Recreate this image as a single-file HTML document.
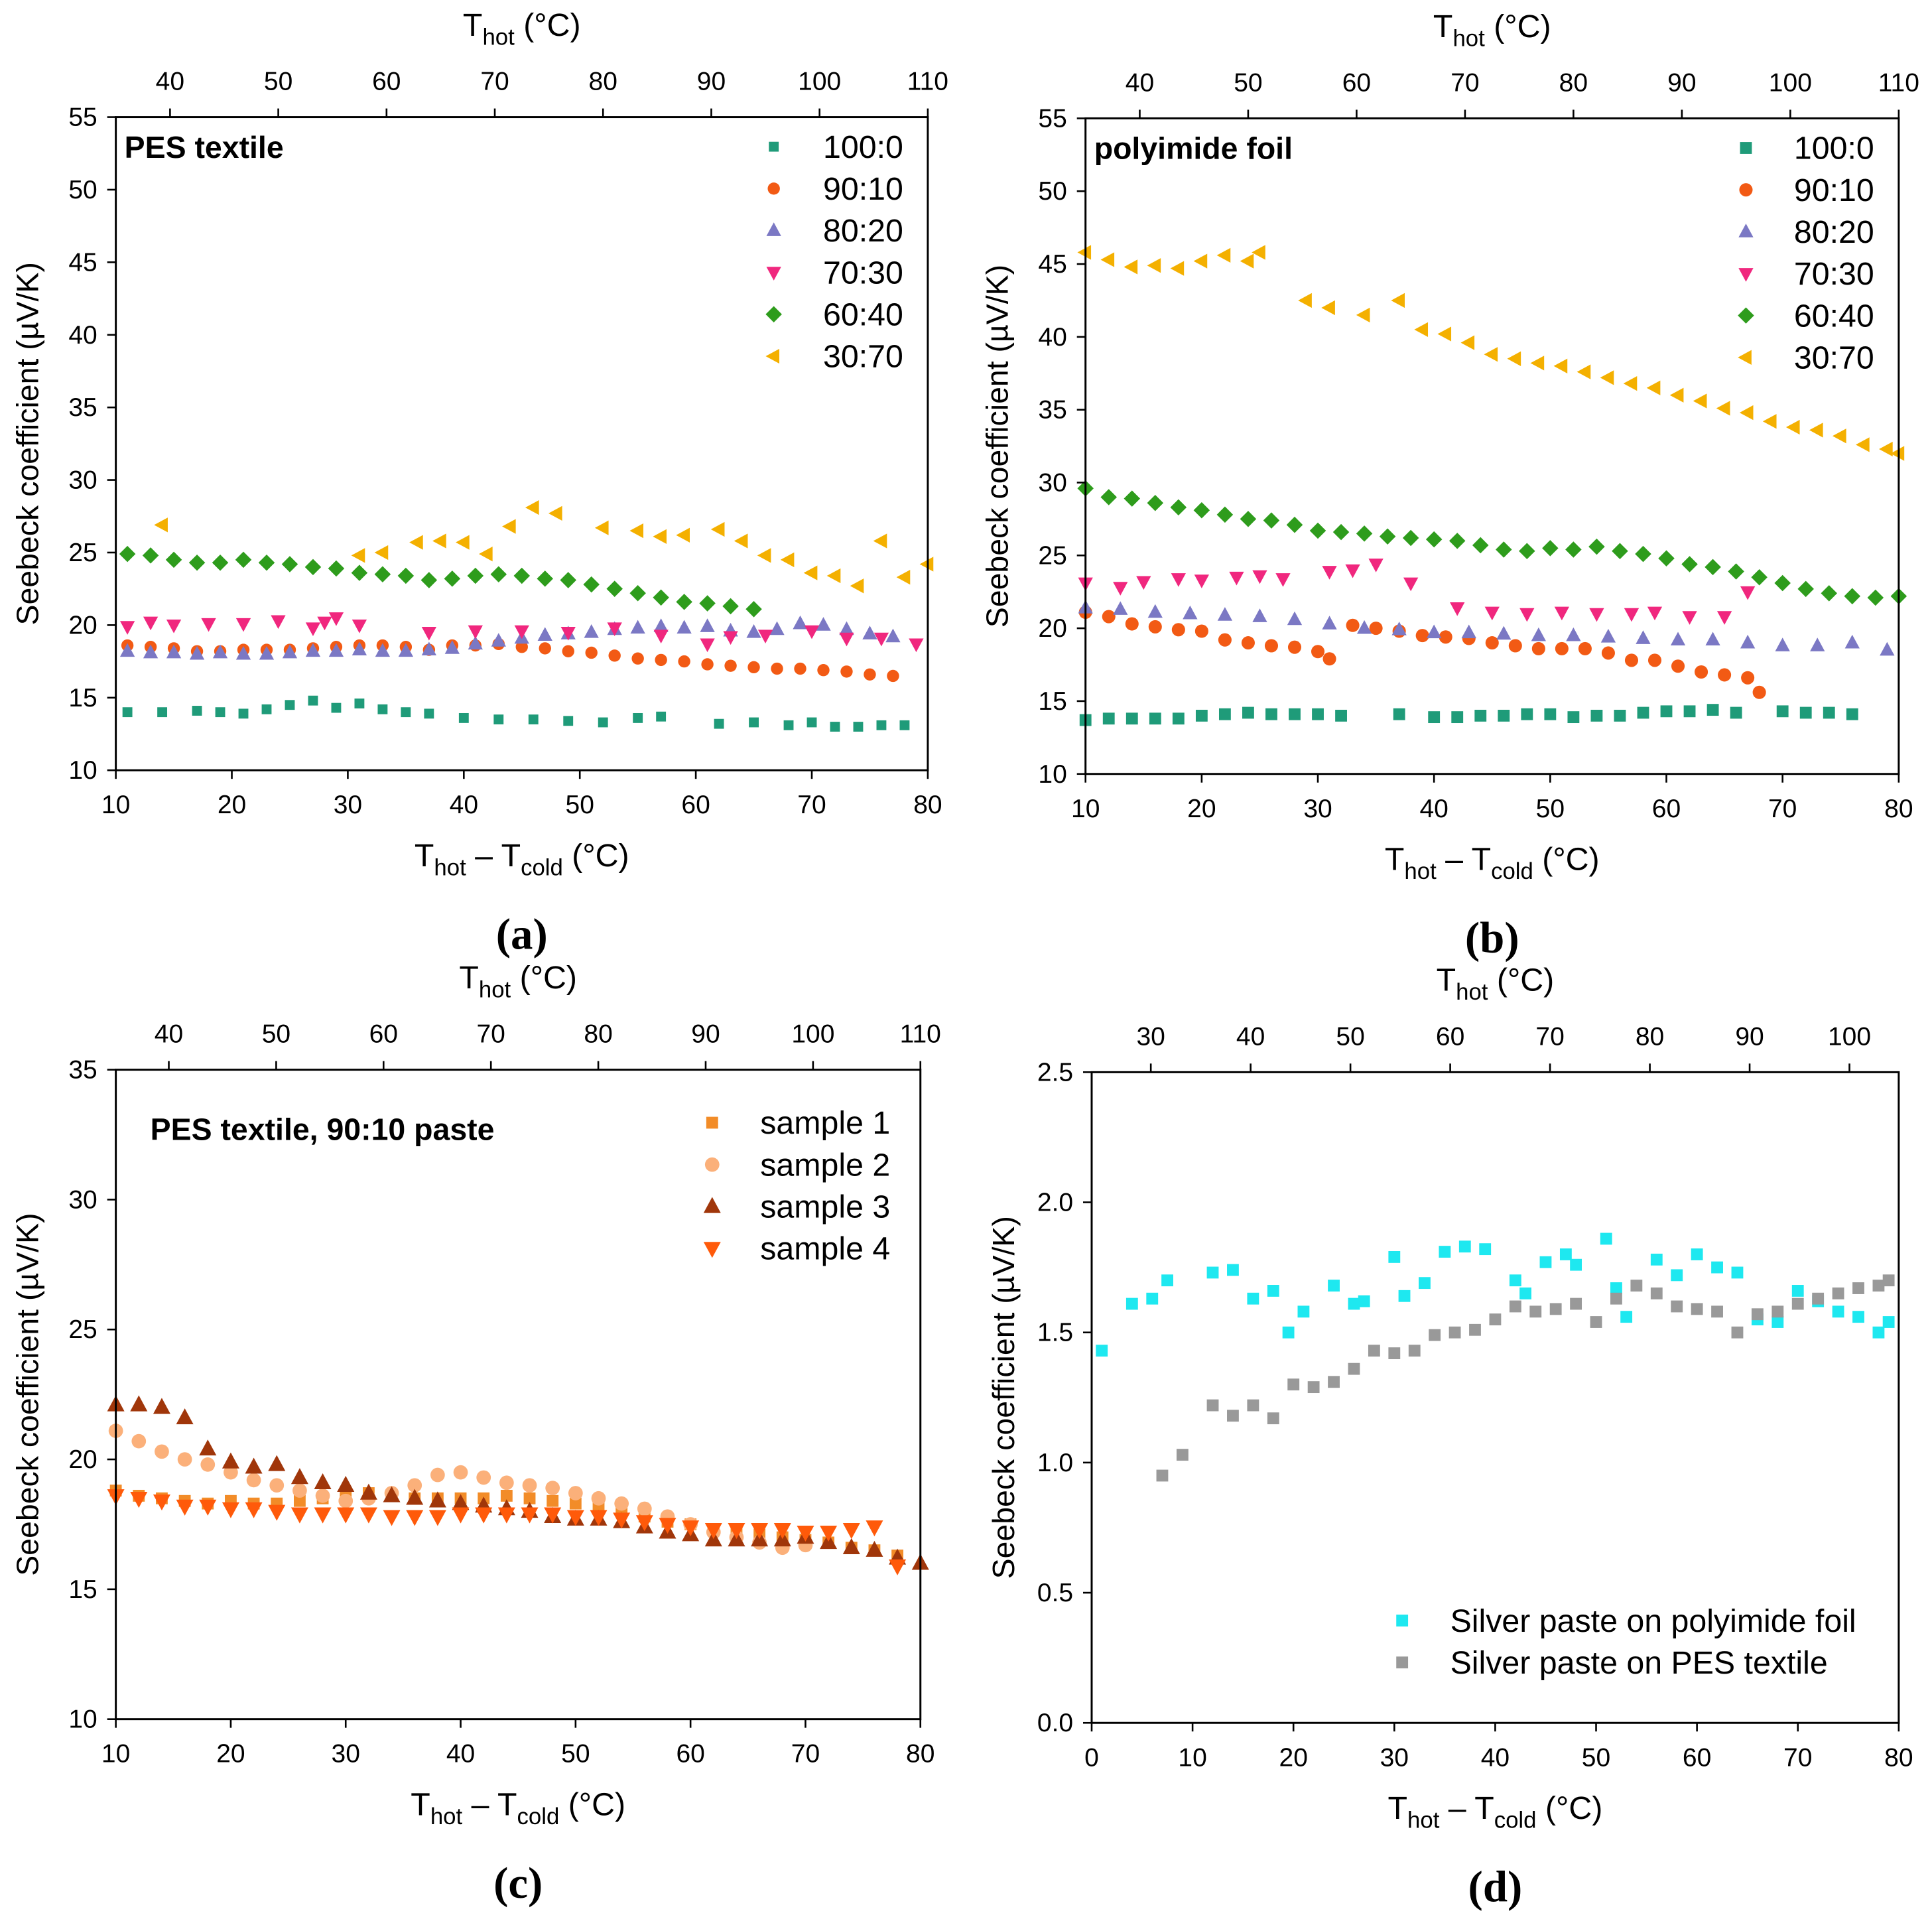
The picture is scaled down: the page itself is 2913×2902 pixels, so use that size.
<!DOCTYPE html>
<html><head><meta charset="utf-8"><style>
html,body{margin:0;padding:0;background:#fff;}
svg{display:block;font-family:"Liberation Sans",sans-serif;}
</style></head><body>
<svg id="c" width="2913" height="2902" viewBox="0 0 1568 1562" xmlns="http://www.w3.org/2000/svg"></svg>
<script>
// ---- Panel (a) data: PES textile ----
const aX100=[11,14,17,19,21,23,25,27,29,31,33,35,37,40,43,46,49,52,55,57,62,65,68,70,72,74,76,78];
const aY100=[14,14,14.1,14,13.9,14.2,14.5,14.8,14.3,14.6,14.2,14,13.9,13.6,13.5,13.5,13.4,13.3,13.6,13.7,13.2,13.3,13.1,13.3,13,13,13.1,13.1];
const aX90=[11,13,15,17,19,21,23,25,27,29,31,33,35,37,39,41,43,45,47,49,51,53,55,57,59,61,63,65,67,69,71,73,75,77];
const aY90=[18.6,18.5,18.4,18.2,18.2,18.3,18.3,18.3,18.4,18.5,18.6,18.6,18.5,18.3,18.6,18.6,18.7,18.5,18.4,18.2,18.1,17.9,17.7,17.6,17.5,17.3,17.2,17.1,17,17,16.9,16.8,16.6,16.5];
const aX80=aX90;
const aY80=[18.2,18.1,18.1,18,18.1,18,18,18.1,18.2,18.2,18.3,18.2,18.2,18.3,18.4,18.7,18.9,19.1,19.3,19.4,19.5,19.7,19.8,19.9,19.8,19.9,19.6,19.5,19.7,20.1,20,19.7,19.4,19.2];
const aX70=[11,13,15,18,21,24,27,28,29,31,37,41,45,49,53,57,61,63,66,70,73,76,79];
const aY70=[19.9,20.2,20,20.1,20.1,20.3,19.8,20.2,20.5,20,19.5,19.6,19.6,19.5,19.8,19.3,18.7,19.2,19.3,19.6,19.1,19.1,18.7];
const aX60=[11,13,15,17,19,21,23,25,27,29,31,33,35,37,39,41,43,45,47,49,51,53,55,57,59,61,63,65];
const aY60=[24.9,24.8,24.5,24.3,24.3,24.5,24.3,24.2,24,23.9,23.6,23.5,23.4,23.1,23.2,23.4,23.5,23.4,23.2,23.1,22.8,22.5,22.2,21.9,21.6,21.5,21.3,21.1];
const aX30=[14,31,33,36,38,40,42,44,46,48,52,55,57,59,62,64,66,68,70,72,74,76,78,80];
const aY30=[26.9,24.8,25,25.7,25.8,25.7,24.9,26.8,28.1,27.7,26.7,26.5,26.1,26.2,26.6,25.8,24.8,24.5,23.6,23.4,22.7,25.8,23.3,24.2];
// ---- Panel (b) data: polyimide foil ----
const bX100=[10,12,14,16,18,20,22,24,26,28,30,32,37,40,42,44,46,48,50,52,54,56,58,60,62,64,66,70,72,74,76];
const bY100=[13.7,13.8,13.8,13.8,13.8,14,14.1,14.2,14.1,14.1,14.1,14,14.1,13.9,13.9,14,14,14.1,14.1,13.9,14,14,14.2,14.3,14.3,14.4,14.2,14.3,14.2,14.2,14.1];
const bX90=[10,12,14,16,18,20,22,24,26,28,30,31,33,35,37,39,41,43,45,47,49,51,53,55,57,59,61,63,65,67,68];
const bY90=[21.1,20.8,20.3,20.1,19.9,19.8,19.2,19,18.8,18.7,18.4,17.9,20.2,20,19.8,19.5,19.4,19.3,19,18.8,18.6,18.6,18.6,18.3,17.8,17.8,17.4,17,16.8,16.6,15.6];
const bX80=[10,13,16,19,22,25,28,31,34,37,40,43,46,49,52,55,58,61,64,67,70,73,76,79];
const bY80=[21.4,21.3,21.1,21,20.9,20.8,20.6,20.3,20,19.9,19.7,19.7,19.6,19.5,19.5,19.4,19.3,19.2,19.2,19,18.8,18.8,19,18.5];
const bX70=[10,13,15,18,20,23,25,27,31,33,35,38,42,45,48,51,54,57,59,62,65,67];
const bY70=[23.1,22.8,23.2,23.4,23.3,23.5,23.6,23.4,23.9,24,24.4,23.1,21.4,21.1,21,21.1,21,21,21.1,20.8,20.8,22.5];
const bX60=[10,12,14,16,18,20,22,24,26,28,30,32,34,36,38,40,42,44,46,48,50,52,54,56,58,60,62,64,66,68,70,72,74,76,78,80];
const bY60=[29.6,29,28.9,28.6,28.3,28.1,27.8,27.5,27.4,27.1,26.7,26.6,26.5,26.3,26.2,26.1,26,25.7,25.4,25.3,25.5,25.4,25.6,25.3,25.1,24.8,24.4,24.2,23.9,23.5,23.1,22.7,22.4,22.2,22.1,22.2];
const bX30=[10,12,14,16,18,20,22,24,25,29,31,34,37,39,41,43,45,47,49,51,53,55,57,59,61,63,65,67,69,71,73,75,77,79,80];
const bY30=[45.8,45.3,44.8,44.9,44.7,45.2,45.6,45.2,45.8,42.5,42,41.5,42.5,40.5,40.2,39.6,38.8,38.5,38.2,38,37.6,37.2,36.8,36.5,36,35.6,35.1,34.8,34.2,33.8,33.6,33.2,32.6,32.3,32];
// ---- Panel (c) data: PES textile 90:10 samples ----
const cX1=[10,12,14,16,18,20,22,24,26,28,30,32,34,36,38,40,42,44,46,48,50,52,54,56,58,60,62,64,66,68,70,72,74,76,78];
const cY1=[18.8,18.6,18.5,18.4,18.3,18.4,18.3,18.3,18.4,18.5,18.6,18.7,18.6,18.5,18.5,18.5,18.5,18.6,18.5,18.4,18.3,18.2,18,17.8,17.6,17.5,17.3,17.2,17.1,17,16.9,16.8,16.6,16.5,16.3];
const cX2=[10,12,14,16,18,20,22,24,26,28,30,32,34,36,38,40,42,44,46,48,50,52,54,56,58,60,62,64,66,68,70];
const cY2=[21.1,20.7,20.3,20,19.8,19.5,19.2,19,18.8,18.6,18.4,18.5,18.7,19,19.4,19.5,19.3,19.1,19,18.9,18.7,18.5,18.3,18.1,17.8,17.5,17.2,17,16.8,16.6,16.7];
const cX3=[10,12,14,16,18,20,22,24,26,28,30,32,34,36,38,40,42,44,46,48,50,52,54,56,58,60,62,64,66,68,70,72,74,76,78,80];
const cY3=[22.1,22.1,22,21.6,20.4,19.9,19.7,19.8,19.3,19.1,19,18.7,18.6,18.5,18.4,18.3,18.2,18.1,18,17.8,17.7,17.7,17.6,17.4,17.2,17.1,16.9,16.9,16.9,16.9,17,16.8,16.6,16.5,16.2,16];
const cX4=[10,12,14,16,18,20,22,24,26,28,30,32,34,36,38,40,42,44,46,48,50,52,54,56,58,60,62,64,66,68,70,72,74,76,78];
const cY4=[18.6,18.5,18.4,18.2,18.2,18.1,18.1,18,17.9,17.9,17.9,17.9,17.8,17.8,17.8,17.9,17.9,17.9,17.9,17.9,17.8,17.8,17.7,17.6,17.5,17.4,17.3,17.3,17.3,17.3,17.2,17.2,17.3,17.4,15.9];
// ---- Panel (d) data: silver paste ----
const dXpi=[1,4,6,7.5,12,14,16,18,19.5,21,24,26,27,30,31,33,35,37,39,42,43,45,47,48,51,52,53,56,58,60,62,64,66,68,70,72,74,76,78,79];
const dYpi=[1.43,1.61,1.63,1.7,1.73,1.74,1.63,1.66,1.5,1.58,1.68,1.61,1.62,1.79,1.64,1.69,1.81,1.83,1.82,1.7,1.65,1.77,1.8,1.76,1.86,1.67,1.56,1.78,1.72,1.8,1.75,1.73,1.55,1.54,1.66,1.62,1.58,1.56,1.5,1.54];
const dXpes=[7,9,12,14,16,18,20,22,24,26,28,30,32,34,36,38,40,42,44,46,48,50,52,54,56,58,60,62,64,66,68,70,72,74,76,78,79];
const dYpes=[0.95,1.03,1.22,1.18,1.22,1.17,1.3,1.29,1.31,1.36,1.43,1.42,1.43,1.49,1.5,1.51,1.55,1.6,1.58,1.59,1.61,1.54,1.63,1.68,1.65,1.6,1.59,1.58,1.5,1.57,1.58,1.61,1.63,1.65,1.67,1.68,1.7];

const NS="http://www.w3.org/2000/svg";
const svg=document.getElementById('c');
function el(tag,attrs,parent,text){const e=document.createElementNS(NS,tag);for(const k in attrs)e.setAttribute(k,attrs[k]);if(text!==undefined)e.textContent=text;(parent||svg).appendChild(e);return e;}
function marker(g,shape,cx,cy,col,s){
  let e;
  if(shape==='sq'){e=el('rect',{x:cx-s*0.8,y:cy-s*0.8,width:s*1.6,height:s*1.6,fill:col},g);}
  else if(shape==='ci'){e=el('circle',{cx:cx,cy:cy,r:s*0.9,fill:col},g);}
  else{let p;
    if(shape==='up')p=[[0,-1.1],[1,0.75],[-1,0.75]];
    else if(shape==='dn')p=[[0,1.1],[1,-0.75],[-1,-0.75]];
    else if(shape==='lt')p=[[-1.1,0],[0.75,-1],[0.75,1]];
    else p=[[0,-1.1],[1.1,0],[0,1.1],[-1.1,0]];
    e=el('polygon',{points:p.map(q=>(cx+q[0]*s)+','+(cy+q[1]*s)).join(' '),fill:col},g);}
  return e;
}
function sub(parent,x,y,parts,size,anchor){
  const t=el('text',{x:x,y:y,'font-size':size,'text-anchor':anchor||'middle',fill:'#000'},parent);
  parts.forEach(p=>{el('tspan',p[1]?{'font-size':size*0.72,dy:size*0.28}:{'font-size':size,dy:p[2]?-size*0.28:0},t,p[0]);});
  return t;
}
function panel(P){
  const g=el('g',{});
  
  
  const X=v=>P.x0+(v-P.xmin)/(P.xmax-P.xmin)*(P.x1-P.x0);
  const Y=v=>P.y1-(v-P.ymin)/(P.ymax-P.ymin)*(P.y1-P.y0);
  const T=v=>P.tx0+(v-P.tv0)/(P.tv1-P.tv0)*(P.tx1-P.tx0);
  P.series.forEach(s=>{
    const sg=el('g',{},g);
    
    
    s.xs.forEach((xv,i)=>{const m=marker(sg,s.shape,X(xv),Y(s.ys[i]),s.col,s.sz||6);
      
      });
  });
  const fr=el('rect',{x:P.x0,y:P.y0,width:P.x1-P.x0,height:P.y1-P.y0,fill:'none',stroke:'#000','stroke-width':1.6},g);
  
  
  const xa=el('g',{},g);
  for(let v=P.xmin;v<=P.xmax+1e-9;v+=P.xstep){
    el('line',{x1:X(v),x2:X(v),y1:P.y1,y2:P.y1+7,stroke:'#000','stroke-width':1.4},xa);
    el('text',{x:X(v),y:P.y1+35,'font-size':21,'text-anchor':'middle'},xa,String(v));
  }
  const ya=el('g',{},g);
  for(let v=P.ymin;v<=P.ymax+1e-9;v+=P.ystep){
    el('line',{x1:P.x0-7,x2:P.x0,y1:Y(v),y2:Y(v),stroke:'#000','stroke-width':1.4},ya);
    el('text',{x:P.x0-15,y:Y(v)+7,'font-size':21,'text-anchor':'end'},ya,P.yfmt?v.toFixed(1):String(Math.round(v)));
  }
  const ta=el('g',{},g);
  P.tticks.forEach(v=>{
    el('line',{x1:T(v),x2:T(v),y1:P.y0-7,y2:P.y0,stroke:'#000','stroke-width':1.4},ta);
    el('text',{x:T(v),y:P.y0-22,'font-size':21,'text-anchor':'middle'},ta,String(v));
  });
  const cx=(P.x0+P.x1)/2, cy=(P.y0+P.y1)/2;
  const xt=sub(g,cx,P.y1+78,[['T'],['hot',1],[' – T',0,1],['cold',1],[' (°C)',0,1]],26);
  
  const tt=sub(g,cx,P.y0-66,[['T'],['hot',1],[' (°C)',0,1]],26);
  
  const yt=el('text',{x:0,y:0,'font-size':25,'text-anchor':'middle',transform:`translate(${P.x0-63},${cy}) rotate(-90)`},g,'Seebeck coefficient (µV/K)');
  
  if(P.title){const t=el('text',{x:P.title[1],y:P.title[2],'font-size':25,'font-weight':'bold'},g,P.title[0]);
    }
  const lg=el('g',{},g);
  P.series.forEach((s,i)=>{
    const y=P.leg[2]+i*P.leg[3];
    const e=el('g',{},lg);
    
    
    marker(e,s.shape,P.leg[0],y,s.col,s.sz||6);
    el('text',{x:P.leg[1],y:y+9,'font-size':26},e,s.label);
  });
  const pl=el('text',{x:cx,y:P.y1+145,'font-size':36,'font-weight':'bold','text-anchor':'middle','font-family':'Liberation Serif,serif'},g,P.letter);
  
}
const C={t:'#1f9b79',o:'#f25a14',p:'#7b78c4',m:'#f0277e',g:'#2e9c1c',y:'#f4b000'};
panel({name:'panel-a',x0:94,x1:753,y0:95,y1:625,xmin:10,xmax:80,xstep:10,ymin:10,ymax:55,ystep:5,
 tx0:138,tx1:753,tv0:40,tv1:110,tticks:[40,50,60,70,80,90,100,110],title:['PES textile',101,128],
 leg:[628,668,119,34],letter:'(a)',series:[
 {key:'100-0',label:'100:0',shape:'sq',col:C.t,xs:aX100,ys:aY100,sz:5},
 {key:'90-10',label:'90:10',shape:'ci',col:C.o,xs:aX90,ys:aY90,sz:5.5},
 {key:'80-20',label:'80:20',shape:'up',col:C.p,xs:aX80,ys:aY80},
 {key:'70-30',label:'70:30',shape:'dn',col:C.m,xs:aX70,ys:aY70},
 {key:'60-40',label:'60:40',shape:'di',col:C.g,xs:aX60,ys:aY60},
 {key:'30-70',label:'30:70',shape:'lt',col:C.y,xs:aX30,ys:aY30}]});
panel({name:'panel-b',x0:881,x1:1541,y0:96,y1:628,xmin:10,xmax:80,xstep:10,ymin:10,ymax:55,ystep:5,
 tx0:925,tx1:1541,tv0:40,tv1:110,tticks:[40,50,60,70,80,90,100,110],title:['polyimide foil',888,129],
 leg:[1417,1456,120,34],letter:'(b)',series:[
 {key:'100-0',label:'100:0',shape:'sq',col:C.t,xs:bX100,ys:bY100},
 {key:'90-10',label:'90:10',shape:'ci',col:C.o,xs:bX90,ys:bY90},
 {key:'80-20',label:'80:20',shape:'up',col:C.p,xs:bX80,ys:bY80},
 {key:'70-30',label:'70:30',shape:'dn',col:C.m,xs:bX70,ys:bY70},
 {key:'60-40',label:'60:40',shape:'di',col:C.g,xs:bX60,ys:bY60},
 {key:'30-70',label:'30:70',shape:'lt',col:C.y,xs:bX30,ys:bY30}]});
panel({name:'panel-c',x0:94,x1:747,y0:868,y1:1395,xmin:10,xmax:80,xstep:10,ymin:10,ymax:35,ystep:5,
 tx0:137,tx1:747,tv0:40,tv1:110,tticks:[40,50,60,70,80,90,100,110],title:['PES textile, 90:10 paste',122,925],
 leg:[578,617,911,34],letter:'(c)',series:[
 {key:'sample-1',label:'sample 1',shape:'sq',col:'#f28c28',xs:cX1,ys:cY1},
 {key:'sample-2',label:'sample 2',shape:'ci',col:'#fbb07a',xs:cX2,ys:cY2,sz:6.5},
 {key:'sample-3',label:'sample 3',shape:'up',col:'#a0360a',xs:cX3,ys:cY3,sz:7},
 {key:'sample-4',label:'sample 4',shape:'dn',col:'#ff5a0a',xs:cX4,ys:cY4,sz:7}]});
panel({name:'panel-d',x0:886,x1:1541,y0:870,y1:1398,xmin:0,xmax:80,xstep:10,ymin:0,ymax:2.5,ystep:0.5,yfmt:1,
 tx0:934,tx1:1501,tv0:30,tv1:100,tticks:[30,40,50,60,70,80,90,100],title:null,
 leg:[1138,1177,1315,34],letter:'(d)',series:[
 {key:'polyimide',label:'Silver paste on polyimide foil',shape:'sq',col:'#1ee8f0',xs:dXpi,ys:dYpi},
 {key:'pes',label:'Silver paste on PES textile',shape:'sq',col:'#999999',xs:dXpes,ys:dYpes}]});
</script>
</body></html>
